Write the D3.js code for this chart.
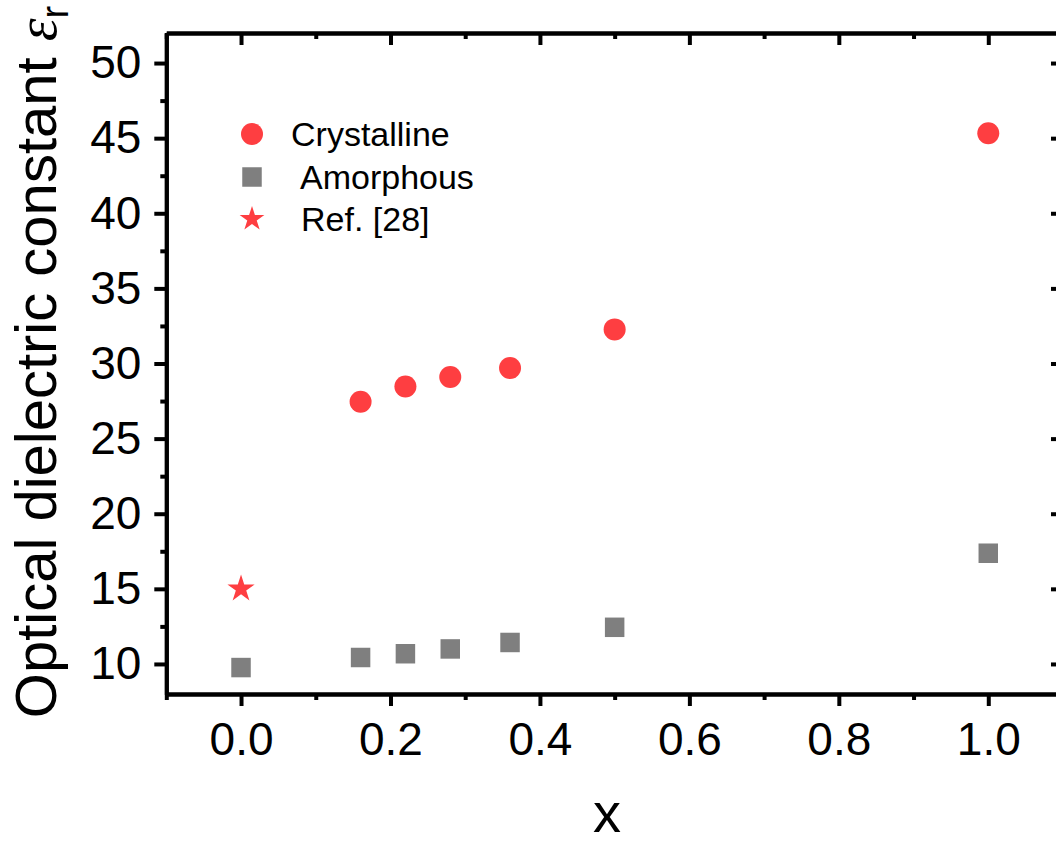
<!DOCTYPE html>
<html>
<head>
<meta charset="utf-8">
<script src="https://d3js.org/d3.v7.min.js"></script>
<style>
  body { margin: 0; background: #fff; }
  text { font-family: "Liberation Sans", Arial, sans-serif; fill: #000; }
</style>
</head>
<body>
<svg width="1056" height="845"></svg>
<script>
// data
var xCryst = [0.16, 0.22, 0.28, 0.36, 0.5, 1.0];
var yCryst = [27.45, 28.47, 29.1, 29.7, 32.27, 45.33];
var xAmorph = [0, 0.16, 0.22, 0.28, 0.36, 0.5, 1.0];
var yAmorph = [9.76, 10.43, 10.68, 11.0, 11.43, 12.44, 17.37];
var xRef = [0];
var yRef = [15.0];
var xTicks = [0, 0.2, 0.4, 0.6, 0.8, 1.0];
var yTicks = [10, 15, 20, 25, 30, 35, 40, 45, 50];
var legendNames = ["Crystalline", "Amorphous", "Ref. [28]"];

var red = "#fe3e41", gray = "#7f7f7f";

var svg = d3.select("svg");
var pLeft = 166.3, pRight = 1063, pTop = 33, pBottom = 694;

var x = d3.scaleLinear().domain([-0.1, 1.1]).range([pLeft, pRight]);
var y = d3.scaleLinear().domain([8, 52]).range([pBottom, pTop]);

var xMinor = d3.range(-0.1, 1.1001, 0.1).map(v => +v.toFixed(2)).filter(v => xTicks.indexOf(v) < 0);
var yMinor = d3.range(10, 52, 2.5).filter(v => yTicks.indexOf(v) < 0);

function styleAxis(g) {
  g.select(".domain").attr("stroke", "#000").attr("stroke-width", 4);
  g.selectAll(".tick line").attr("stroke", "#000").attr("stroke-width", 4);
  g.selectAll(".tick text").style("font-size", "46px");
}

// bottom
svg.append("g").attr("transform", "translate(0," + pBottom + ")")
  .call(d3.axisBottom(x).tickValues(xMinor).tickFormat("").tickSizeInner(6).tickSizeOuter(0))
  .call(styleAxis);
svg.append("g").attr("transform", "translate(0," + pBottom + ")")
  .call(d3.axisBottom(x).tickValues(xTicks).tickFormat(d3.format(".1f")).tickSizeInner(12).tickSizeOuter(0).tickPadding(16))
  .call(styleAxis);
// top
svg.append("g").attr("transform", "translate(0," + pTop + ")")
  .call(d3.axisTop(x).tickValues(xMinor).tickFormat("").tickSizeInner(-6).tickSizeOuter(0))
  .call(styleAxis);
svg.append("g").attr("transform", "translate(0," + pTop + ")")
  .call(d3.axisTop(x).tickValues(xTicks).tickFormat("").tickSizeInner(-12).tickSizeOuter(0))
  .call(styleAxis);
// left
svg.append("g").attr("transform", "translate(" + pLeft + ",0)")
  .call(d3.axisLeft(y).tickValues(yMinor).tickFormat("").tickSizeInner(6).tickSizeOuter(0))
  .call(styleAxis);
svg.append("g").attr("transform", "translate(" + pLeft + ",0)")
  .call(d3.axisLeft(y).tickValues(yTicks).tickFormat(d3.format("d")).tickSizeInner(12).tickSizeOuter(0).tickPadding(13))
  .call(styleAxis);
// right
svg.append("g").attr("transform", "translate(" + pRight + ",0)")
  .call(d3.axisRight(y).tickValues(yMinor).tickFormat("").tickSizeInner(-6).tickSizeOuter(0))
  .call(styleAxis);
svg.append("g").attr("transform", "translate(" + pRight + ",0)")
  .call(d3.axisRight(y).tickValues(yTicks).tickFormat("").tickSizeInner(-12).tickSizeOuter(0))
  .call(styleAxis);

// axis titles
svg.append("text").attr("x", 607).attr("y", 832)
  .attr("text-anchor", "middle").style("font-size", "56px").text("x");

var yt = svg.append("text")
  .attr("transform", "translate(56,362) rotate(-90)")
  .attr("text-anchor", "middle").style("font-size", "58px");
yt.append("tspan").text("Optical dielectric constant ");
yt.append("tspan").style("font-family", "'Liberation Serif', serif").style("font-style", "italic").text("ε");
yt.append("tspan").attr("dy", 12).style("font-size", "38px").text("r");

// points
var sym = d3.symbol().size(380);
svg.append("g").selectAll("path").data(xAmorph).join("path")
  .attr("transform", (d, i) => "translate(" + x(d) + "," + y(yAmorph[i]) + ")")
  .attr("d", sym.type(d3.symbolSquare)()).attr("fill", gray);
svg.append("g").selectAll("circle").data(xCryst).join("circle")
  .attr("cx", d => x(d)).attr("cy", (d, i) => y(yCryst[i])).attr("r", 11).attr("fill", red);
svg.append("g").selectAll("path").data(xRef).join("path")
  .attr("transform", (d, i) => "translate(" + x(d) + "," + y(yRef[i]) + ")")
  .attr("d", d3.symbol().type(d3.symbolStar).size(230)()).attr("fill", red);

// legend
var lg = svg.append("g");
var lgY = [134, 177, 219];
var lgTx = [291, 300, 301];
lg.append("circle").attr("cx", 252).attr("cy", lgY[0]).attr("r", 11).attr("fill", red);
lg.append("path").attr("transform", "translate(252," + lgY[1] + ")")
  .attr("d", d3.symbol().type(d3.symbolSquare).size(380)()).attr("fill", gray);
lg.append("path").attr("transform", "translate(252," + lgY[2] + ")")
  .attr("d", d3.symbol().type(d3.symbolStar).size(190)()).attr("fill", red);
lg.selectAll("text").data(legendNames).join("text")
  .attr("x", (d, i) => lgTx[i]).attr("y", (d, i) => lgY[i] + 12)
  .style("font-size", "34px").text(d => d);
</script>
</body>
</html>
